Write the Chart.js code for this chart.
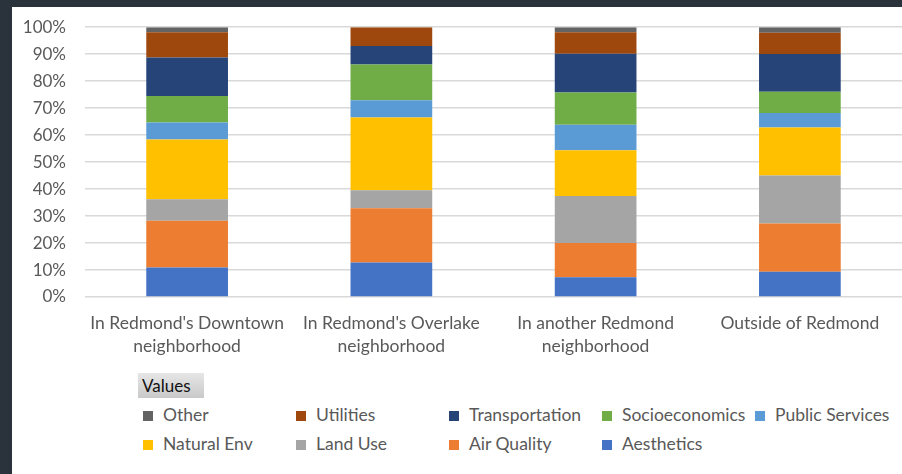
<!DOCTYPE html>
<html lang="en">
<head>
  <meta charset="UTF-8">
  <title>Redmond survey</title>
  <script src="https://cdn.jsdelivr.net/npm/chart.js@4/dist/chart.umd.min.js"></script>
  <style>
    body { margin: 0; background: #fff; width: 902px; height: 474px; position: relative; overflow: hidden; font-family: Lato, sans-serif; }
    #topbar { position: absolute; left: 0; top: 0; width: 902px; height: 7px; background: #2a323c; z-index: 2; }
    #leftbar { position: absolute; left: 0; top: 0; width: 12px; height: 474px; background: #2a323c; z-index: 2; }
    #wrap { position: absolute; left: 12px; top: -2px; width: 890px; height: 369px; }
    #values { position: absolute; left: 138px; top: 373px; width: 66px; height: 25px; background: linear-gradient(#e6e6e6, #c9c9c9); color: #111; font-size: 17px; line-height: 25px; padding-left: 4px; box-sizing: border-box; }
    #legend { position: absolute; left: 143px; top: 404px; }
    .item { position: absolute; font-size: 17.5px; color: #595959; white-space: nowrap; line-height: 22px; }
    .item span { display: inline-block; width: 10px; height: 10px; margin-right: 10px; vertical-align: 0px; }
  </style>
</head>
<body>
  <div id="topbar"></div>
  <div id="leftbar"></div>
  <div id="wrap"><canvas id="myChart" width="890" height="369"></canvas></div>
  <div id="values">Values</div>
  <div id="legend"></div>

  <script>
  var categories = [
    ["In Redmond's Downtown", "neighborhood"],
    ["In Redmond's Overlake", "neighborhood"],
    ["In another Redmond", "neighborhood"],
    "Outside of Redmond"
  ];
  var aesthetics     = [10.9, 12.8,  7.3,  9.4];
  var airQuality     = [17.4, 20.1, 12.7, 17.8];
  var landUse        = [ 7.9,  6.7, 17.4, 17.8];
  var naturalEnv     = [22.2, 26.9, 17.0, 17.8];
  var publicServices = [ 6.3,  6.4,  9.4,  5.4];
  var socioeconomics = [ 9.8, 13.3, 12.0,  7.9];
  var transportation = [14.3,  6.8, 14.4, 14.0];
  var utilities      = [ 9.3,  7.0,  7.9,  7.8];
  var other          = [ 1.9,  0.0,  1.9,  2.1];
  var yTicks = [0, 10, 20, 30, 40, 50, 60, 70, 80, 90, 100];

  var series = [
    { label: "Aesthetics", data: aesthetics, color: "#4472C4" },
    { label: "Air Quality", data: airQuality, color: "#ED7D31" },
    { label: "Land Use", data: landUse, color: "#A5A5A5" },
    { label: "Natural Env", data: naturalEnv, color: "#FFC000" },
    { label: "Public Services", data: publicServices, color: "#5B9BD5" },
    { label: "Socioeconomics", data: socioeconomics, color: "#70AD47" },
    { label: "Transportation", data: transportation, color: "#264478" },
    { label: "Utilities", data: utilities, color: "#9E480E" },
    { label: "Other", data: other, color: "#636363" }
  ];

  var ctx = document.getElementById("myChart");
  var myChart = new Chart(ctx, {
    type: 'bar',
    data: {
      labels: categories,
      datasets: series.map(function(s) {
        return {
          label: s.label,
          data: s.data,
          backgroundColor: s.color,
          borderWidth: 0,
          barPercentage: 0.4,
          categoryPercentage: 1.0
        };
      })
    },
    options: {
      responsive: false,
      animation: false,
      layout: { padding: { top: 11, left: 0, right: 0, bottom: 0 } },
      plugins: { legend: { display: false }, tooltip: { enabled: false } },
      scales: {
        x: {
          stacked: true,
          grid: { display: false, drawTicks: false },
          border: { display: false },
          ticks: { color: "#595959", font: { family: "Lato", size: 17.5, lineHeight: 1.32 }, maxRotation: 0, autoSkip: false, padding: 15 },
          afterFit: function(scale) { scale.height = 70; }
        },
        y: {
          stacked: true,
          min: 0,
          max: 100,
          afterBuildTicks: function(scale) {
            scale.ticks = yTicks.map(function(v) { return { value: v }; });
          },
          grid: { color: "#d9d9d9", lineWidth: 1.5, drawTicks: false },
          border: { display: false },
          ticks: {
            color: "#595959",
            font: { family: "Lato", size: 17 },
            padding: 19,
            callback: function(v) { return v + "%"; }
          },
          afterFit: function(scale) { scale.width = 73; }
        }
      }
    }
  });

  // legend in Excel order: last series first, five per row
  var legend = document.getElementById("legend");
  var order = series.slice().reverse();
  order.forEach(function(s, i) {
    var el = document.createElement("div");
    el.className = "item";
    el.style.left = (i % 5) * 153 + "px";
    el.style.top = Math.floor(i / 5) * 29 + "px";
    el.innerHTML = '<span style="background:' + s.color + '"></span>' + s.label;
    legend.appendChild(el);
  });
  </script>
</body>
</html>
